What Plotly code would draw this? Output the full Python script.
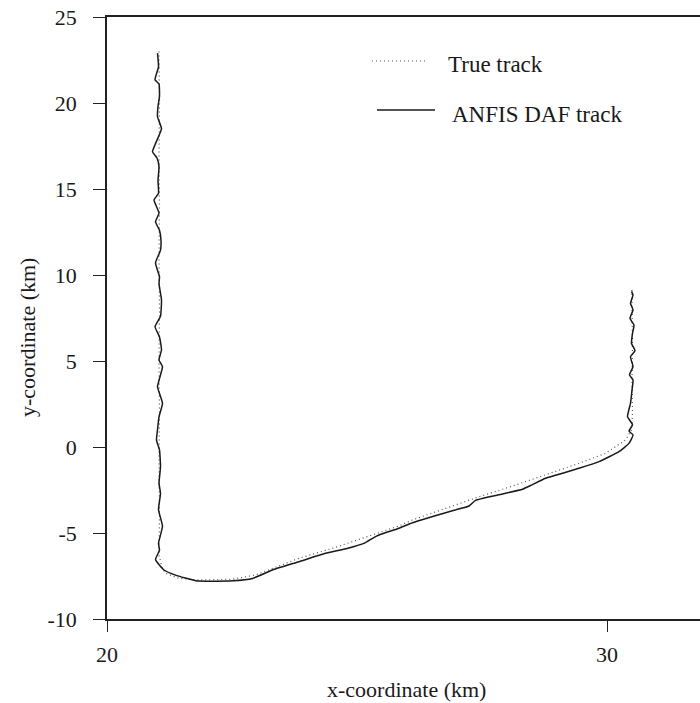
import plotly.graph_objects as go

# ANFIS DAF (estimated) track
est_x = [21.01, 21.03, 20.96, 21.04, 21.05, 21.02, 21.01, 21.09, 20.91, 21.00, 21.04, 21.02,
         21.03, 20.94, 21.04, 20.97, 21.05, 21.08, 21.07, 20.97, 21.05, 21.04, 21.09, 21.07,
         20.96, 21.05, 21.09, 21.04, 21.11, 21.01, 21.11, 21.04, 21.01, 20.99, 21.05, 21.07,
         21.04, 21.07, 21.03, 21.11, 21.03, 21.05, 20.97, 21.14, 21.37, 21.77, 22.10, 22.51,
         22.91, 23.31, 23.84, 24.37, 24.80, 25.17, 25.31, 25.44, 25.84, 26.11, 26.84, 27.24,
         27.37, 27.80, 28.31, 28.50, 28.77, 29.44, 29.84, 30.24, 30.44, 30.52, 30.44, 30.51,
         30.41, 30.47, 30.50, 30.52, 30.45, 30.52, 30.47, 30.56, 30.49, 30.51, 30.54, 30.46,
         30.52, 30.47, 30.52, 30.49]
est_y = [22.90, 22.10, 21.35, 21.10, 20.40, 19.80, 19.20, 18.50, 17.17, 16.80, 16.30, 15.50,
         14.75, 14.36, 13.60, 13.10, 12.60, 12.00, 11.45, 10.70, 9.90, 9.50, 8.55, 7.60,
         7.00, 6.40, 5.65, 5.06, 4.67, 3.50, 2.55, 1.75, 1.00, 0.40, -0.17, -1.15,
         -2.10, -2.70, -3.65, -4.60, -5.60, -6.00, -6.55, -7.15, -7.45, -7.77, -7.80, -7.78,
         -7.64, -7.15, -6.67, -6.18, -5.90, -5.56, -5.31, -5.12, -4.72, -4.40, -3.76, -3.43,
         -3.10, -2.80, -2.46, -2.20, -1.82, -1.24, -0.85, -0.27, 0.21, 0.70, 0.92, 1.30,
         1.76, 2.54, 3.30, 3.90, 4.19, 4.67, 5.25, 5.60, 6.02, 6.60, 7.09, 7.48,
         7.97, 8.35, 8.84, 9.05]

# True track
true_x = [21.04, 21.05, 21.04, 21.05, 21.04, 21.05, 21.04, 21.05, 21.04, 21.05, 21.04, 21.10,
          21.17, 21.44, 21.84, 22.51, 22.97, 23.31, 23.84, 24.51, 25.17, 25.84, 26.11, 26.77,
          27.44, 28.11, 28.77, 29.44, 29.97, 30.37, 30.49, 30.51, 30.50, 30.51, 30.50, 30.50]
true_y = [23.00, 20.00, 17.00, 14.00, 11.00, 8.00, 5.00, 2.00, -1.00, -4.00, -6.30, -7.00,
          -7.34, -7.64, -7.73, -7.69, -7.44, -7.05, -6.47, -5.89, -5.25, -4.59, -4.24, -3.57,
          -2.89, -2.27, -1.63, -0.95, -0.37, 0.41, 0.99, 1.96, 4.00, 6.00, 8.00, 9.15]

x_ticks = [20, 30]
x_tick_labels = ["20", "30"]
y_ticks = [-10, -5, 0, 5, 10, 15, 20, 25]
y_tick_labels = ["-10", "-5", "0", "5", "10", "15", "20", "25"]

FONT = "Liberation Serif"
L, R, T, B = 107, 0, 17, 84
W, H = 700, 703
pw = W - L - R
ph = H - T - B

def px2x(p):
    return (p - L) / pw

def py2y(p):
    return (H - B - p) / ph

fig = go.Figure()
fig.add_trace(go.Scatter(x=true_x, y=true_y, mode="lines",
                         line=dict(color="#555555", width=1.2, dash="1px,3px"),
                         showlegend=False, hoverinfo="skip"))
fig.add_trace(go.Scatter(x=est_x, y=est_y, mode="lines",
                         line=dict(color="#1a1a1a", width=1.5, shape="spline", smoothing=0.4),
                         showlegend=False, hoverinfo="skip"))

# custom legend
fig.add_shape(type="line", xref="paper", yref="paper",
              x0=px2x(372), x1=px2x(428), y0=py2y(61), y1=py2y(61),
              line=dict(color="#555555", width=1.2, dash="1px,3px"))
fig.add_shape(type="line", xref="paper", yref="paper",
              x0=px2x(377), x1=px2x(435), y0=py2y(110), y1=py2y(110),
              line=dict(color="#1a1a1a", width=1.5))
fig.add_annotation(text="True track", xref="paper", yref="paper",
                   x=px2x(446), y=py2y(65), xanchor="left", yanchor="middle",
                   showarrow=False, font=dict(family=FONT, size=23, color="#1a1a1a"))
fig.add_annotation(text="ANFIS DAF track", xref="paper", yref="paper",
                   x=px2x(450), y=py2y(114), xanchor="left", yanchor="middle",
                   showarrow=False, font=dict(family=FONT, size=23, color="#1a1a1a"))

# axis titles
fig.add_annotation(text="x-coordinate (km)", xref="paper", yref="paper",
                   x=px2x(406), y=py2y(689), xanchor="center", yanchor="middle",
                   showarrow=False, font=dict(family=FONT, size=22, color="#1a1a1a"))
fig.add_annotation(text="y-coordinate (km)", xref="paper", yref="paper",
                   x=px2x(27), y=py2y(338), xanchor="center", yanchor="middle",
                   textangle=-90,
                   showarrow=False, font=dict(family=FONT, size=22, color="#1a1a1a"))

fig.update_xaxes(range=[20, 20 + pw / 50.0], tickvals=x_ticks, ticktext=x_tick_labels,
                 showgrid=False, zeroline=False, showline=True, linecolor="#222",
                 linewidth=1.5, mirror=True, ticks="outside", ticklen=11, tickwidth=1.2,
                 tickcolor="#222", ticklabelstandoff=4,
                 tickfont=dict(family=FONT, size=22, color="#1a1a1a"))
fig.update_yaxes(range=[-10, 25], tickvals=y_ticks, ticktext=y_tick_labels,
                 showgrid=False, zeroline=False, showline=True, linecolor="#222",
                 linewidth=1.5, ticks="outside", ticklen=12, tickwidth=1.2,
                 tickcolor="#222", ticklabelstandoff=12,
                 tickfont=dict(family=FONT, size=22, color="#1a1a1a"))
fig.update_layout(width=W, height=H, margin=dict(l=L, r=R, t=T, b=B),
                  plot_bgcolor="white", paper_bgcolor="white", showlegend=False)
fig.write_html("out.html", config={"displayModeBar": False},
               post_script="document.body.style.margin='0px';document.body.style.overflow='hidden';")
